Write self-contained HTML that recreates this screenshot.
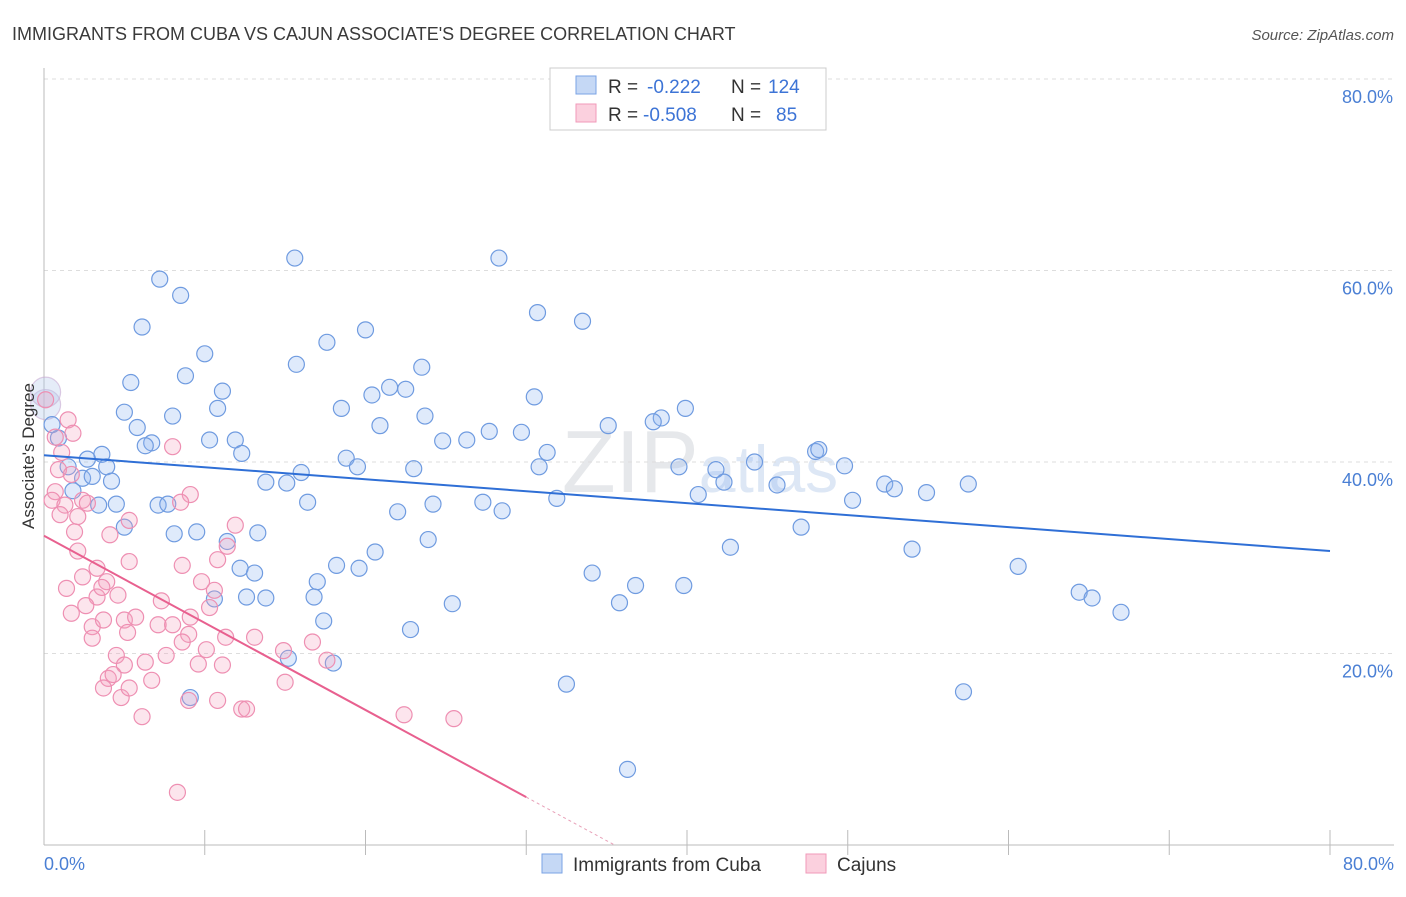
<!DOCTYPE html>
<html><head><meta charset="utf-8"><style>
body{margin:0;background:#fff;font-family:"Liberation Sans",sans-serif;}
svg text{font-family:"Liberation Sans",sans-serif;}
</style></head><body>
<svg id="chart" width="1406" height="892" xmlns="http://www.w3.org/2000/svg">
<text x="12" y="40" font-size="18" fill="#3a3a3a">IMMIGRANTS FROM CUBA VS CAJUN ASSOCIATE'S DEGREE CORRELATION CHART</text>
<text x="1394" y="40" font-size="15" fill="#555" font-style="italic" text-anchor="end">Source: ZipAtlas.com</text>
<text x="700" y="492" font-size="88" text-anchor="middle" font-family="Liberation Serif"><tspan fill="#e6e8eb">ZIP</tspan><tspan fill="#dde7f5" font-family="Liberation Sans" font-size="66">atlas</tspan></text>
<g id="grid"></g>
<g id="axes"></g>
<g id="pts"></g>
<g id="lines"></g>
<text transform="translate(34,456) rotate(-90)" font-size="17" fill="#333" text-anchor="middle">Associate's Degree</text>
<text x="44" y="870" font-size="18" fill="#4a7fd4">0.0%</text>
<text x="1394" y="870" font-size="18" fill="#4a7fd4" text-anchor="end">80.0%</text>
<g>
<rect x="550" y="68" width="276" height="62" fill="#fff" stroke="#ccc"/>
<rect x="576" y="76" width="20" height="18" fill="#c5d8f5" stroke="#7aa3e5"/>
<rect x="576" y="104" width="20" height="18" fill="#fbd0de" stroke="#f09ab9"/>
<text x="608" y="93" font-size="19" fill="#333">R =</text>
<text x="647" y="93" font-size="19" fill="#3d74d6">-0.222</text>
<text x="731" y="93" font-size="19" fill="#333">N =</text>
<text x="768" y="93" font-size="19" fill="#3d74d6">124</text>
<text x="608" y="121" font-size="19" fill="#333">R =</text>
<text x="643" y="121" font-size="19" fill="#3d74d6">-0.508</text>
<text x="731" y="121" font-size="19" fill="#333">N =</text>
<text x="776" y="121" font-size="19" fill="#3d74d6">85</text>
</g>
<g>
<rect x="542" y="854" width="20" height="19" fill="#c5d8f5" stroke="#7aa3e5"/>
<text x="573" y="871" font-size="19" fill="#333">Immigrants from Cuba</text>
<rect x="806" y="854" width="20" height="19" fill="#fbd0de" stroke="#f09ab9"/>
<text x="837" y="871" font-size="19" fill="#333">Cajuns</text>
</g>
</svg>
<script>
const yTicks=[20,40,60,80];
const xTicks=[10,20,30,40,50,60,70,80];
const cubaX=[15.6,28.3,7.2,8.5,30.7,33.5,6.1,20.0,17.6,10.0,15.7,23.5,8.8,5.4,21.5,22.5,11.1,20.4,30.5,5.0,10.8,18.5,8.0,23.7,39.9,38.4,37.9,5.8,20.9,35.1,24.8,26.3,27.7,29.7,10.3,11.9,6.7,6.3,31.3,12.3,3.6,2.7,48.0,48.2,44.2,18.8,19.5,30.8,39.5,49.8,3.9,1.5,2.4,4.2,3.0,16.0,23.0,41.8,13.8,15.1,42.3,45.6,52.3,52.9,54.9,57.5,40.7,31.9,1.8,3.4,4.5,7.1,7.7,27.3,24.2,28.5,50.3,16.4,22.0,5.0,9.5,13.3,47.1,8.1,11.4,23.9,42.7,54.0,20.6,18.2,12.2,19.6,13.1,34.1,60.6,17.0,36.8,39.8,64.4,12.6,13.8,10.6,16.8,65.2,35.8,25.4,67.0,17.4,22.8,15.2,18.0,32.5,57.2,9.1,36.3,0.9,0.5];
const cubaY=[61.3,61.3,59.1,57.4,55.6,54.7,54.1,53.8,52.5,51.3,50.2,49.9,49.0,48.3,47.8,47.6,47.4,47.0,46.8,45.2,45.6,45.6,44.8,44.8,45.6,44.6,44.2,43.6,43.8,43.8,42.2,42.3,43.2,43.1,42.3,42.3,42.0,41.7,41.0,40.9,40.8,40.3,41.1,41.3,40.0,40.4,39.5,39.5,39.5,39.6,39.5,39.5,38.3,38.0,38.5,38.9,39.3,39.2,37.9,37.8,37.9,37.6,37.7,37.2,36.8,37.7,36.6,36.2,37.0,35.5,35.6,35.5,35.6,35.8,35.6,34.9,36.0,35.8,34.8,33.2,32.7,32.6,33.2,32.5,31.7,31.9,31.1,30.9,30.6,29.2,28.9,28.9,28.4,28.4,29.1,27.5,27.1,27.1,26.4,25.9,25.8,25.7,25.9,25.8,25.3,25.2,24.3,23.4,22.5,19.5,19.0,16.8,16.0,15.4,7.9,42.5,43.9];
const cajunX=[0.1,1.5,1.8,0.7,1.1,0.9,0.7,1.7,0.5,2.4,2.7,1.3,1.0,2.1,8.0,1.9,4.1,5.3,11.9,9.1,8.5,11.4,2.1,5.3,10.8,8.6,3.3,2.4,3.9,9.8,10.6,1.4,3.3,3.6,4.6,7.3,10.3,5.0,2.6,1.7,5.7,3.0,3.7,7.1,9.1,8.0,5.2,3.0,9.0,13.1,16.7,8.6,10.1,14.9,4.5,7.6,6.3,5.0,4.0,4.3,6.7,11.1,9.6,17.6,15.0,3.7,4.8,5.3,9.0,10.8,12.3,12.6,6.1,22.4,25.5,8.3,11.3];
const cajunY=[46.5,44.4,43.0,42.6,41.0,39.2,36.9,38.7,36.0,36.0,35.7,35.5,34.5,34.3,41.6,32.7,32.4,33.9,33.4,36.6,35.8,31.2,30.7,29.6,29.8,29.2,28.9,28.0,27.5,27.5,26.6,26.8,25.9,26.9,26.1,25.5,24.8,23.5,25.0,24.2,23.8,22.8,23.5,23.0,23.8,23.0,22.2,21.6,22.0,21.7,21.2,21.2,20.4,20.3,19.8,19.8,19.1,18.8,17.4,17.8,17.2,18.8,18.9,19.3,17.0,16.4,15.4,16.4,15.1,15.1,14.2,14.2,13.4,13.6,13.2,5.5,21.7];
const bigX=[0.1,0.1];
const bigY=[46.0,47.3];
const trendCuba=[40.7,30.7];
const trendCajun=[32.3,5.0,30.0];
const NS="http://www.w3.org/2000/svg";
const xs=v=>44+v*16.075, ys=v=>845-v*9.575;
function mk(tag,attrs,parent){const e=document.createElementNS(NS,tag);for(const k in attrs)e.setAttribute(k,attrs[k]);parent.appendChild(e);return e;}
const gridG=document.getElementById('grid'),axesG=document.getElementById('axes'),ptsG=document.getElementById('pts'),linesG=document.getElementById('lines');
yTicks.forEach(t=>{
 const l=mk('line',{x1:44,x2:1394,y1:ys(t),y2:ys(t),stroke:'#ddd','stroke-dasharray':'4,4'},gridG);
 
 
 const tx=mk('text',{x:1393,y:ys(t)+24,'font-size':18,fill:'#4a7fd4','text-anchor':'end'},gridG);
 tx.textContent=t.toFixed(1)+'%';
 
 
});
const topGrid=mk('line',{x1:44,x2:1394,y1:79,y2:79,stroke:'#ddd','stroke-dasharray':'4,4'},gridG);


const ya=mk('line',{x1:44,x2:44,y1:68,y2:845,stroke:'#bbb'},axesG);


const xa=mk('line',{x1:44,x2:1394,y1:845,y2:845,stroke:'#bbb'},axesG);


xTicks.forEach(t=>{
 const l=mk('line',{x1:xs(t),x2:xs(t),y1:830,y2:855,stroke:'#bbb'},axesG);
 
 
});
function dots(X,Y,r,fill,stroke,name){X.forEach((x,i)=>{
 const c=mk('circle',{cx:xs(x),cy:ys(Y[i]),r:r,fill:fill,stroke:stroke,'stroke-width':1.2},ptsG);
 
 
});}
dots(bigX,bigY,15,'rgba(180,200,235,0.35)','rgba(200,170,210,0.6)','large-point');
dots(cubaX,cubaY,8,'rgba(140,180,240,0.28)','#6f9be0','cuba-point');
dots(cajunX,cajunY,8,'rgba(245,160,190,0.28)','#ee8fb2','cajun-point');
const b=mk('line',{x1:xs(0),y1:ys(trendCuba[0]),x2:xs(80),y2:ys(trendCuba[1]),stroke:'#2f6fd6','stroke-width':2},linesG);


const slope=(trendCajun[1]-trendCajun[0])/trendCajun[2];
const p=mk('line',{x1:xs(0),y1:ys(trendCajun[0]),x2:xs(trendCajun[2]),y2:ys(trendCajun[1]),stroke:'#e8608f','stroke-width':2},linesG);


const xe=-trendCajun[0]/slope;
const pd=mk('line',{x1:xs(trendCajun[2]),y1:ys(trendCajun[1]),x2:xs(xe),y2:ys(0),stroke:'#e8a0b8','stroke-width':1,'stroke-dasharray':'3,3'},linesG);


</script>
</body></html>
